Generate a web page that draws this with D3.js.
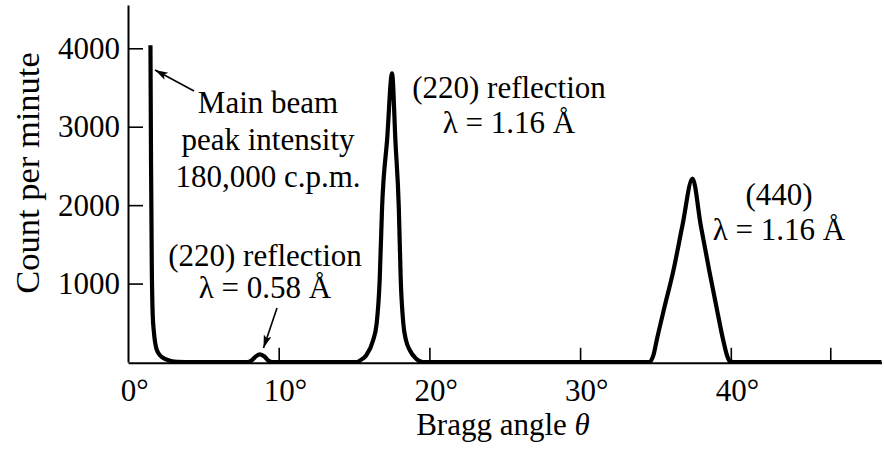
<!DOCTYPE html>
<html>
<head>
<meta charset="utf-8">
<script src="https://cdn.jsdelivr.net/npm/d3@7"></script>
<style>
  html, body { margin: 0; padding: 0; background: #fff; }
  svg { display: block; }
  svg text { font-family: "Liberation Serif", Tinos, "DejaVu Serif", serif; fill: #000; }
</style>
</head>
<body>
<svg id="chart" width="884" height="449"></svg>
<script>
// ---- data ----
const theta = [
  1.49, 1.53, 1.58, 1.64, 1.72, 1.9, 2.15, 2.45, 2.85, 3.3, 3.8,
  7.9, 8.2, 8.5, 8.76, 9.05, 9.3, 9.6,
  15.2, 15.4, 15.8, 16.26, 16.5, 16.7, 16.86, 17.2, 17.52, 17.75, 17.97, 18.1, 18.27, 18.45, 18.71, 19.1, 19.57,
  34.6, 34.86, 35.08, 35.6, 36.19, 36.8, 37.46, 38.0, 38.57, 39.05, 39.5, 39.75, 39.95, 40.2,
  50
];
const counts = [
  4040, 2500, 1200, 600, 380, 160, 80, 40, 12, 2, 0,
  0, 20, 75, 98, 70, 20, 0,
  0, 20, 83, 275, 490, 1040, 1970, 2850, 3680, 2800, 1970, 1040, 490, 275, 147, 45, 0,
  0, 83, 275, 700, 1165, 1750, 2340, 1750, 1165, 700, 275, 83, 5, 0,
  0
];
const yTicks = [1000, 2000, 3000, 4000];
const xTicks = [0, 10, 20, 30, 40, 46.6];
const xTickLabels = ["0°", "10°", "20°", "30°", "40°", ""];

const FONT = '"Liberation Serif", Tinos, "DejaVu Serif", serif';
const svg = d3.select("#chart");
const FS = 31;

const x = d3.scaleLinear().domain([0, 50]).range([128, 881.5]);
const y = d3.scaleLinear().domain([0, 4552]).range([362, 5]);

// y axis
const yAxis = svg.append("g")
  .attr("transform", `translate(${x(0)},0)`)
  .call(d3.axisLeft(y).tickValues(yTicks).tickFormat(d3.format("d"))
    .tickSizeInner(-15).tickSizeOuter(0).tickPadding(8));
yAxis.attr("font-family", FONT);
yAxis.select(".domain").attr("stroke", "#000").attr("stroke-width", 2);
yAxis.selectAll(".tick line").attr("stroke", "#000").attr("stroke-width", 1.6);
yAxis.selectAll(".tick text").attr("font-size", FS);

// x axis
const xAxis = svg.append("g")
  .attr("transform", `translate(0,${y(0) + 0.8})`)
  .call(d3.axisBottom(x).tickValues(xTicks).tickFormat((d, i) => xTickLabels[i])
    .tickSizeInner(-15).tickSizeOuter(0).tickPadding(16));
xAxis.attr("font-family", FONT);
xAxis.select(".domain").attr("stroke", "#000").attr("stroke-width", 2);
xAxis.selectAll(".tick line").attr("stroke", "#000").attr("stroke-width", 1.6)
  .filter(d => d === 0).remove();
xAxis.selectAll(".tick text").attr("font-size", FS)
  .each(function() {
    const t = d3.select(this);
    const full = t.text();
    if (!full) return;
    const num = full.replace("°", "");
    t.text(num);
    const w = this.getComputedTextLength();
    t.text(full).attr("text-anchor", "start").attr("x", -w / 2);
  });

// curve
const pts = theta.map((t, i) => [t, counts[i]]);
const line = d3.line().x(d => x(d[0])).y(d => y(d[1])).curve(d3.curveMonotoneX);
svg.append("path").datum(pts)
  .attr("d", line)
  .attr("fill", "none").attr("stroke", "#000").attr("stroke-width", 4.2)
  .attr("stroke-linejoin", "round");

// axis titles
svg.append("text")
  .attr("transform", `translate(39,173) rotate(-90)`)
  .attr("text-anchor", "middle")
  .attr("font-size", 34.5)
  .text("Count per minute");

const bt = svg.append("text")
  .attr("x", 503).attr("y", 435)
  .attr("text-anchor", "middle")
  .attr("font-size", 31);
bt.append("tspan").text("Bragg angle ");
bt.append("tspan").attr("font-style", "italic").text("θ");

// arrow marker
svg.append("defs").append("marker")
  .attr("id", "ah").attr("markerUnits", "userSpaceOnUse")
  .attr("markerWidth", 14).attr("markerHeight", 10)
  .attr("refX", 13).attr("refY", 4).attr("orient", "auto")
  .append("path").attr("d", "M0,0 L13,4 L0,8 L3,4 Z").attr("fill", "#000");

function arrow(x1, y1, x2, y2) {
  svg.append("line").attr("x1", x1).attr("y1", y1).attr("x2", x2).attr("y2", y2)
    .attr("stroke", "#000").attr("stroke-width", 1.6).attr("marker-end", "url(#ah)");
}
arrow(194, 91, 155, 70);
arrow(277, 308, 263.5, 348);

// annotations
function label(lines, cx, y0, dy) {
  lines.forEach((s, i) => {
    svg.append("text").attr("x", cx).attr("y", y0 + i * dy)
      .attr("text-anchor", "middle").attr("font-size", FS).text(s);
  });
}
label(["Main beam", "peak intensity", "180,000 c.p.m."], 268, 113, 37);
label(["(220) reflection", "λ = 0.58 Å"], 265, 266, 32);
label(["(220) reflection", "λ = 1.16 Å"], 509, 98, 35);
label(["(440)", "λ = 1.16 Å"], 779, 205, 35);
</script>
</body>
</html>
